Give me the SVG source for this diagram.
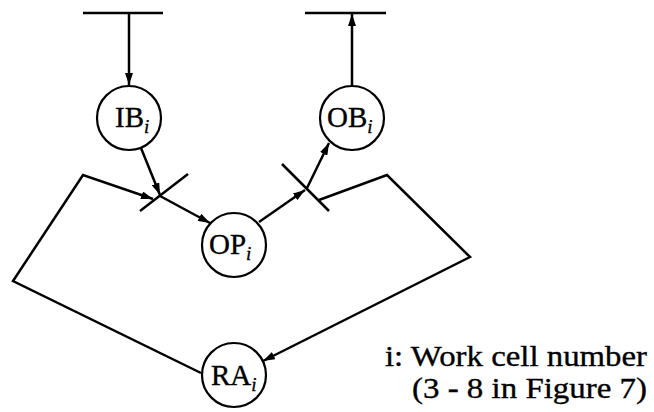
<svg xmlns="http://www.w3.org/2000/svg" width="654" height="412" viewBox="0 0 654 412">
  <defs>
    <marker id="arr" markerUnits="userSpaceOnUse" markerWidth="12" markerHeight="8" refX="12" refY="4" orient="auto">
      <path d="M0,0 L12,4 L0,8 z" fill="#000"/>
    </marker>
    <style>
      .ln { fill: none; stroke: #000; stroke-width: 2.5; stroke-linejoin: miter; }
      .arrow { fill: none; stroke: #000; stroke-width: 2.5; marker-end: url(#arr); }
      .node circle { fill: #fff; stroke: #000; stroke-width: 2.2; }
      text { font-family: 'Liberation Serif', 'Times New Roman', 'DejaVu Serif', serif; fill: #000; stroke: #000; stroke-width: 0.35; }
      .lbl { font-size: 29px; }
      .sub { font-size: 19px; font-style: italic; }
      .note { font-size: 30px; }
    </style>
  </defs>
  <rect width="654" height="412" fill="#fff"/>

  <g id="connectors">
    <line class="ln" x1="83" y1="13" x2="163" y2="13"/>
    <line class="ln" x1="305" y1="13" x2="386" y2="13"/>
    <line class="arrow" x1="129" y1="13" x2="129" y2="85"/>
    <line class="arrow" x1="352" y1="86" x2="352" y2="14"/>
    <line class="ln" x1="140" y1="211" x2="188" y2="174"/>
    <line class="ln" x1="282" y1="164" x2="329" y2="211"/>
    <line class="arrow" x1="141" y1="148" x2="160" y2="195"/>
    <polyline class="arrow" points="201,373 13,281 83,175 153,199"/>
    <line class="arrow" x1="160" y1="196" x2="210" y2="223"/>
    <line class="arrow" x1="259" y1="222" x2="305" y2="190"/>
    <line class="arrow" x1="307" y1="188" x2="329" y2="143"/>
    <polyline class="arrow" points="319,200 387,175 470,257 263,361"/>
  </g>

  <g id="IB" class="node">
    <circle cx="129" cy="118" r="32"/>
    <text class="lbl" x="115" y="127">IB<tspan class="sub" dy="6">i</tspan></text>
  </g>
  <g id="OB" class="node">
    <circle cx="352" cy="118" r="32"/>
    <text class="lbl" x="327" y="127">OB<tspan class="sub" dy="6">i</tspan></text>
  </g>
  <g id="OP" class="node">
    <circle cx="234" cy="245" r="32"/>
    <text class="lbl" x="209" y="254">OP<tspan class="sub" dy="6">i</tspan></text>
  </g>
  <g id="RA" class="node">
    <circle cx="234" cy="375" r="32"/>
    <text class="lbl" x="211" y="385">RA<tspan class="sub" dy="6">i</tspan></text>
  </g>

  <g id="legend">
    <text class="note" x="385" y="366" textLength="262" lengthAdjust="spacingAndGlyphs">i:  Work cell number</text>
    <text class="note" x="412" y="398" textLength="235" lengthAdjust="spacingAndGlyphs">(3 - 8 in Figure 7)</text>
  </g>
</svg>
